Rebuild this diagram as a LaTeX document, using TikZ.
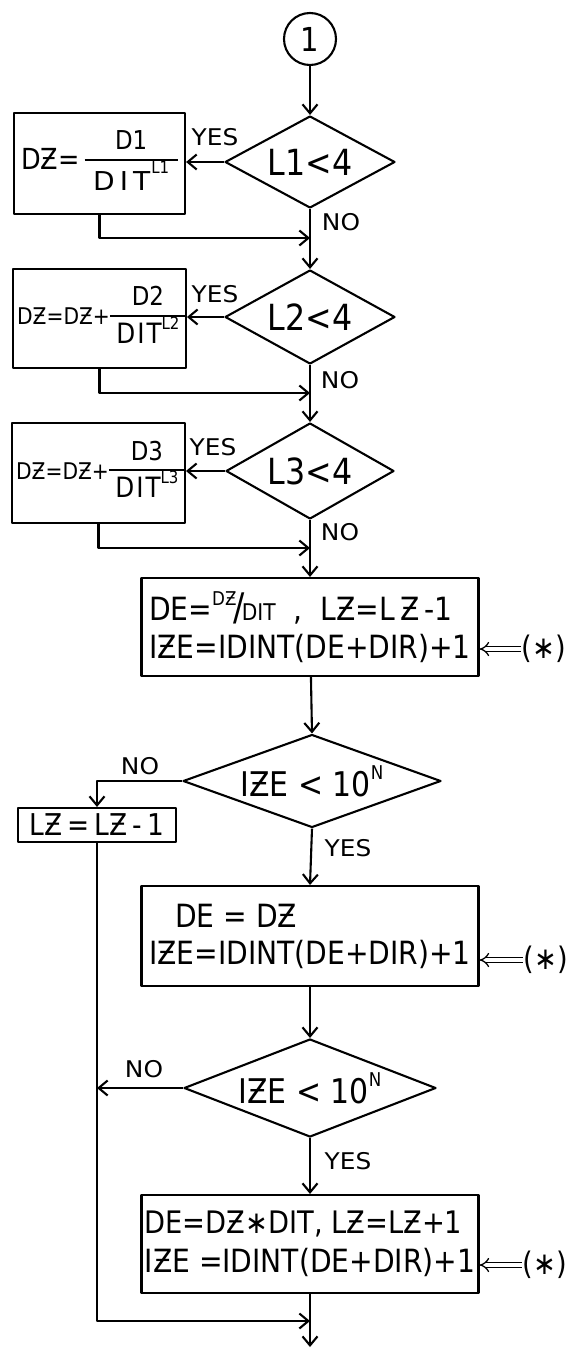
\documentclass[tikz,border=0pt]{standalone}
\usepackage{fontspec}
\usepackage{graphicx}
\setmainfont{DejaVu Sans}[FakeStretch=0.88]
\newfontfamily\labf{DejaVu Sans}[FakeStretch=1.08]
\usetikzlibrary{shapes.geometric,arrows.meta}
\newcommand\fr[3]{{\setlength\arrayrulewidth{2pt}\renewcommand\arraystretch{1.0}\begin{tabular}{@{}c@{}}\makebox[#3]{#1}\\\hline #2\end{tabular}}}
\newcommand\upsc[1]{\raisebox{0.6em}{\fontsize{17}{17}\selectfont #1}}
\begin{document}
\begin{tikzpicture}[x=1pt,y=-1pt, line width=2.1pt, line join=round,
  arr/.style={-{Straight Barb[length=9pt,width=15pt]}},
  dbl/.style={double, double distance=3.6pt, line width=1.3pt, -{Implies}},
  box/.style={draw, rectangle, inner sep=2pt},
  dia/.style={draw, diamond, aspect=2, inner sep=0pt},
  lab/.style={font=\labf\fontsize{23}{23}\selectfont, inner sep=0pt},
  star/.style={font=\fontsize{31}{31}\selectfont, inner sep=0pt}]
\useasboundingbox (0,0) rectangle (573,1351);

% start connector
\node[draw, circle, minimum size=52pt, inner sep=0pt, font=\fontsize{33}{33}\selectfont] (c1) at (310,39) {1};

% three tests
\node[dia, minimum width=170pt, minimum height=92pt, font=\fontsize{36}{36}\selectfont] (d1) at (310,162) {L1<4};
\node[dia, minimum width=170pt, minimum height=94pt, font=\fontsize{36}{36}\selectfont] (d2) at (310,317) {L2<4};
\node[dia, minimum width=168pt, minimum height=96pt, font=\fontsize{36}{36}\selectfont] (d3) at (310,471) {L3<4};

\node[box, minimum width=171pt, minimum height=101pt, inner sep=0pt, font=\fontsize{29}{32}\selectfont] (b1) at (99.5,163.5)
  {DƵ=\,\fr{\fontsize{26}{30}\selectfont D1}{{\labf\fontsize{26}{32}\selectfont D\kern5pt I\kern5pt T}\kern1pt\upsc{L1}}{93pt}};
\node[box, minimum width=171pt, minimum height=99pt, inner sep=0pt, font=\fontsize{23}{30}\selectfont] (b2) at (99.5,318.5)
  {\hspace*{4pt}DƵ=DƵ+\fr{\fontsize{26}{30}\selectfont D2}{{\fontsize{28}{32}\selectfont D\kern2pt I\kern2pt T}\upsc{L2}}{76pt}};
\node[box, minimum width=169pt, minimum height=100pt, inner sep=0pt, font=\fontsize{23}{30}\selectfont] (b3) at (98.5,473)
  {\hspace*{4pt}DƵ=DƵ+\fr{\fontsize{26}{30}\selectfont D3}{{\fontsize{28}{32}\selectfont D\kern2pt I\kern2pt T}\upsc{L3}}{76pt}};

\node[lab] (y1) at (215,137) {YES};
\node[lab] (y2) at (215,294) {YES};
\node[lab] (y3) at (213,447) {YES};
\node[lab] (n1) at (341,222) {NO};
\node[lab] (n2) at (340,380) {NO};
\node[lab] (n3) at (340,532) {NO};

\coordinate (j1) at (310,238);
\coordinate (j2) at (310,393);
\coordinate (j3) at (310,548);

\draw[arr] (c1) -- (d1);
\draw[arr] (d1.west) -- (d1.west -| b1.east);
\draw[arr] (b1.south) |- (j1);
\draw[arr] (d1) -- (d2);
\draw[arr] (d2.west) -- (d2.west -| b2.east);
\draw[arr] (b2.south) |- (j2);
\draw[arr] (d2) -- (d3);
\draw[arr] (d3.west) -- (d3.west -| b3.east);
\draw[arr] (b3.south) |- (j3);

% first computation box
\node[box, minimum width=337pt, minimum height=98pt, align=left, font=\fontsize{32}{38}\selectfont] (b4) at (310,627)
  {DE=\raisebox{0.45em}{\fontsize{19}{19}\selectfont DƵ}\kern-3pt{\fontsize{38}{38}\selectfont /}\kern-3pt{\fontsize{23}{23}\selectfont DIT}\ \ ,\ \ LƵ=L\,Ƶ\,-1\\
   \fontsize{32}{38}\selectfont IƵE=IDINT(DE+DIR)+1};
\draw[arr] (d3) -- (b4);
\node[star] (s4) at (544,649) {(∗)};
\draw[dbl] (s4.west) -- (s4.west -| b4.east);

% second test
\node[dia, minimum width=258pt, minimum height=93pt, aspect=2.7, font=\fontsize{34}{34}\selectfont] (d4) at (312,781)
  {IƵE < 10\raisebox{0.5em}{\fontsize{19}{19}\selectfont N}};
\draw[arr] (b4) -- (d4.north);
\node[lab] (n4) at (140,766) {NO};
\node[box, minimum width=158pt, minimum height=34pt, inner sep=1pt, font=\fontsize{30}{30}\selectfont] (b5) at (97,825) {LƵ\,=\,LƵ\,-\,1};
\draw[arr] (d4.west) -| (b5.north);
\node[lab] (y4) at (348,848) {YES};

\node[box, minimum width=337pt, minimum height=100pt, align=left, font=\fontsize{32}{37}\selectfont] (b6) at (310,936)
  {\hspace*{26pt}DE = DƵ\\IƵE=IDINT(DE+DIR)+1};
\draw[arr] (d4.south) -- (b6.north);
\node[star] (s6) at (546,960) {(∗)};
\draw[dbl] (s6.west) -- (s6.west -| b6.east);

% third test
\node[dia, minimum width=252pt, minimum height=98pt, aspect=2.6, font=\fontsize{34}{34}\selectfont] (d5) at (310,1088)
  {IƵE < 10\raisebox{0.5em}{\fontsize{19}{19}\selectfont N}};
\draw[arr] (b6.south) -- (d5.north);
\node[lab] (n5) at (144,1069) {NO};
\draw[arr] (d5.west) -- (d5.west -| b5.south);
\node[lab] (y5) at (348,1161) {YES};

\node[box, minimum width=337pt, minimum height=98pt, align=left, font=\fontsize{31}{39}\selectfont] (b7) at (310,1244)
  {DE=DƵ∗DIT, LƵ=LƵ+1\\\fontsize{32}{39}\selectfont IƵE =IDINT(DE+DIR)+1};
\draw[arr] (d5.south) -- (b7.north);
\node[star] (s7) at (545,1265) {(∗)};
\draw[dbl] (s7.west) -- (s7.west -| b7.east);

% merge and exit
\coordinate (m) at (310,1321);
\coordinate (e) at (310,1347);
\draw[arr] (b5.south) |- (m);
\draw[arr] (b7.south) -- (e);
\end{tikzpicture}
\end{document}
